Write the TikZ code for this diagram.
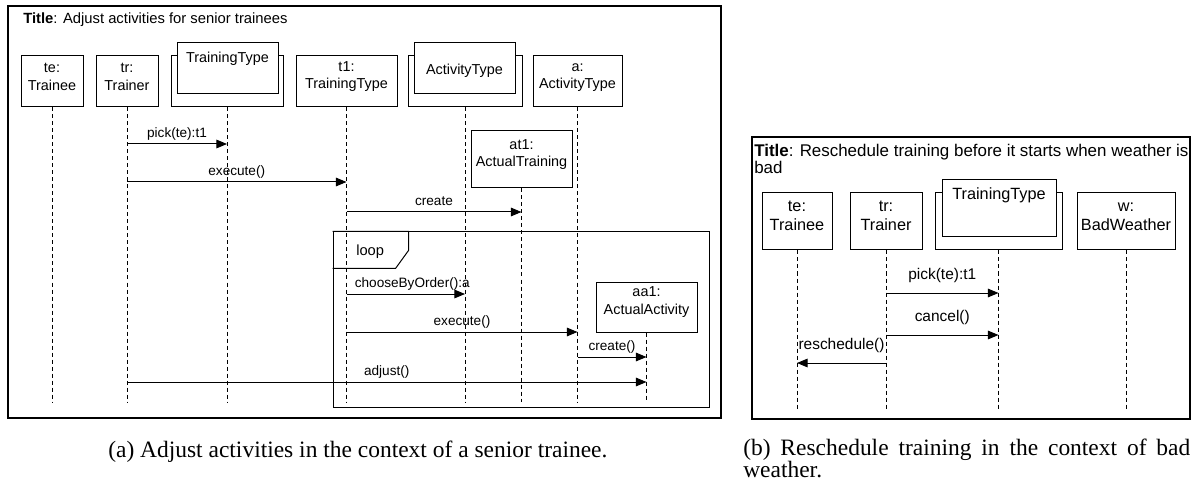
\documentclass[tikz,border=0pt]{standalone}
\usepackage{fontspec}
\setmainfont{Liberation Sans}
\newfontfamily\capfont{Liberation Serif}
\usetikzlibrary{arrows.meta,fit}

\begin{document}
\begin{tikzpicture}[x=0.75pt,y=-0.75pt,
  outerframe/.style={draw, line width=1pt, inner sep=0pt},
  obj/.style={draw, line width=0.75pt, inner sep=0pt, align=center, font=\fontsize{10.8}{13.4}\selectfont},
  objb/.style={obj, font=\fontsize{12.2}{14.2}\selectfont},
  frontbox/.style={draw, line width=0.75pt, inner sep=0pt, fill=white},
  life/.style={draw, line width=0.75pt, dash pattern=on 3pt off 2.25pt},
  msg/.style={draw, line width=0.75pt, -{Triangle[length=8pt,width=6.5pt]}},
  lbl/.style={anchor=base, yshift=4.9pt, inner sep=0pt, font=\fontsize{10.2}{12}\selectfont},
  lblb/.style={lbl, yshift=5.2pt, font=\fontsize{11.6}{13}\selectfont},
  txt/.style={inner sep=0pt, font=\fontsize{10.8}{13}\selectfont},
  txtb/.style={inner sep=0pt, font=\fontsize{12.2}{14}\selectfont},
  captext/.style={inner sep=0pt, font=\capfont\fontsize{17.6}{20}\selectfont},
]
\useasboundingbox (0,0) rectangle (1195,488);

% ---------- (a) Adjust activities for senior trainees ----------
\node[outerframe, fit={(8,6)(721,418)}] (fa) {};
\node[txt, anchor=base west, font=\fontsize{11.1}{13}\selectfont] (ta) at (23,24) {\textbf{Title}: Adjust activities for senior trainees};

\node[obj, fit={(21,56)(83,107)}] (te) {te:\\Trainee};
\node[obj, fit={(96,56)(158,107)}] (tr) {tr:\\Trainer};
\node[obj, fit={(171,56)(283,107)}] (ttb) {};
\node[frontbox, fit={(177,43)(278,94)}] (ttf) {};
\node[txt, anchor=base] (ttl) at (ttf.north |- 0,63) {TrainingType};
\node[obj, fit={(296,56)(397,107)}] (t1) {t1:\\TrainingType};
\node[obj, fit={(408,56)(522,107)}] (atb) {};
\node[frontbox, fit={(414,43)(515,94)}] (atf) {};
\node[txt, anchor=base] (atl) at (atf.north |- 0,75) {ActivityType};
\node[obj, fit={(533,56)(622,107)}] (a) {a:\\ActivityType};
\node[obj, fit={(471,131)(572,188)}] (at1) {at1:\\ActualTraining};
\node[obj, fit={(596,282)(697,332)}] (aa1) {aa1:\\ActualActivity};

% lifelines
\coordinate (endA) at (0,402);
\foreach \o in {te,tr,ttb,t1,atb,a,at1,aa1}
  \draw[life] (\o.south) -- (\o.south |- endA);

% loop fragment
\node[draw, line width=0.75pt, inner sep=0pt, fit={(333,232)(709,407)}] (loop) {};
\draw[line width=0.75pt] (loop.north west) -- ++(76,0) -- ++(0,19) -- ++(-13,18) -- ++(-63,0);
\node[txt, anchor=base west, font=\fontsize{11}{13}\selectfont] (loopl) at (356,256) {loop};

% messages
\coordinate (m1) at (0,144);
\coordinate (m2) at (0,182);
\coordinate (m3) at (0,212);
\coordinate (m4) at (0,294);
\coordinate (m5) at (0,332);
\coordinate (m6) at (0,357);
\coordinate (m7) at (0,382);
\draw[msg] (tr.south |- m1) -- node[lbl]{pick(te):t1} (ttb.south |- m1);
\draw[msg] (tr.south |- m2) -- node[lbl]{execute()} (t1.south |- m2);
\draw[msg] (t1.south |- m3) -- node[lbl]{create} (at1.south |- m3);
\draw[msg] (t1.south |- m4) -- node[lbl, pos=0.555]{chooseByOrder():a} (atb.south |- m4);
\draw[msg] (t1.south |- m5) -- node[lbl]{execute()} (a.south |- m5);
\draw[msg] (a.south |- m6) -- node[lbl]{create()} (aa1.south |- m6);
\draw[msg] (tr.south |- m7) -- node[lbl]{adjust()} (aa1.south |- m7);

% ---------- (b) Reschedule training when weather is bad ----------
\node[outerframe, fit={(752,137)(1190,419)}] (fb) {};
\node[txtb, anchor=base west, font=\fontsize{12.7}{14}\selectfont] (tb1) at (754,157) {\textbf{Title}: Reschedule training before it starts when weather is};
\node[txtb, anchor=base west, font=\fontsize{12.7}{14}\selectfont] (tb2) at (754,174) {bad};

\node[objb, fit={(762,193)(832,250)}] (teb) {te:\\Trainee};
\node[objb, fit={(850,193)(922,250)}] (trb) {tr:\\Trainer};
\node[objb, fit={(935,193)(1062,250)}] (ttbb) {};
\node[frontbox, fit={(942,180)(1056,237)}] (ttfb) {};
\node[txtb, anchor=base] (ttlb) at (ttfb.north |- 0,200) {TrainingType};
\node[objb, fit={(1077,193)(1175,250)}] (wb) {w:\\BadWeather};

\coordinate (endB) at (0,410);
\foreach \o in {teb,trb,ttbb,wb}
  \draw[life] (\o.south) -- (\o.south |- endB);

\coordinate (n1) at (0,293);
\coordinate (n2) at (0,335);
\coordinate (n3) at (0,363);
\draw[msg] (trb.south |- n1) -- node[lblb]{pick(te):t1} (ttbb.south |- n1);
\draw[msg] (trb.south |- n2) -- node[lblb]{cancel()} (ttbb.south |- n2);
\draw[msg] (trb.south |- n3) -- node[lblb]{reschedule()} (teb.south |- n3);

% ---------- captions ----------
\node[captext, anchor=base west] (capa) at (108,457) {(a) Adjust activities in the context of a senior trainee.};
\node[captext, anchor=base west] (capb) at (743,455.5) {\vtop{\baselineskip=16.3pt\lineskiplimit=-20pt
  \hbox to 335.25pt{\spaceskip=0.25em plus 1fil (b) Reschedule training in the context of bad}
  \hbox{weather.}}};
\end{tikzpicture}
\end{document}
